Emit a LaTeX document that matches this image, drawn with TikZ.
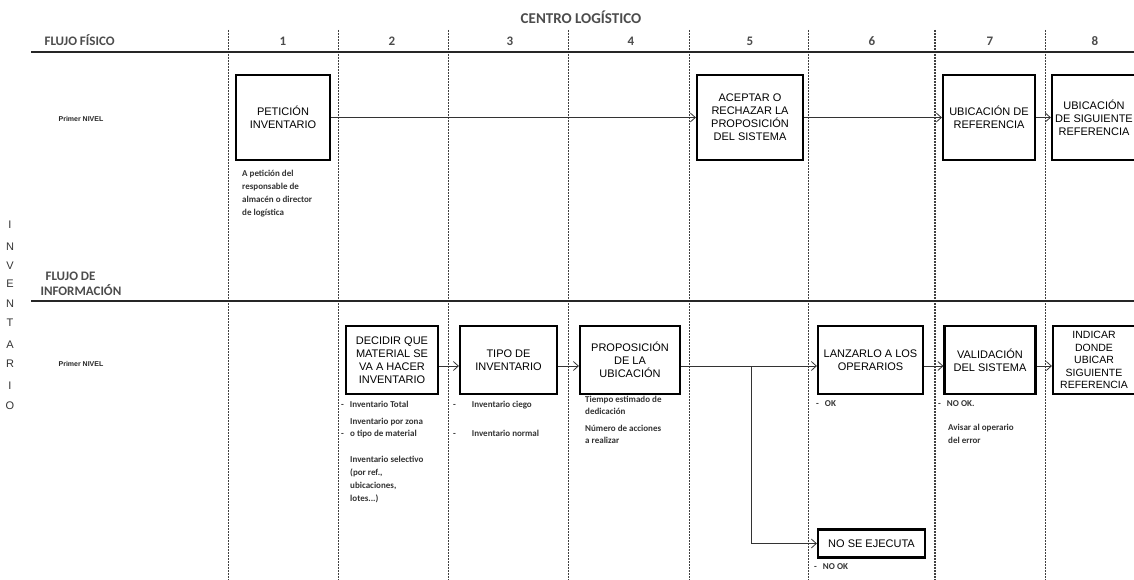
\documentclass[tikz,border=0pt]{standalone}
\usepackage{fontspec}
\setmainfont{Liberation Sans}
\newfontfamily\hdr{Carlito}
\usetikzlibrary{arrows.meta}
\tikzset{
  box/.style={draw=black, line width=2.2pt, align=center, inner sep=1pt,
    font=\fontsize{11}{13}\selectfont},
  flow/.style={draw=black!80, line width=0.8pt, -{Straight Barb[length=5pt,width=9pt]}},
  sep/.style={draw=black!75, line width=0.9pt, dash pattern=on 2pt off 1pt},
  hline/.style={draw=black!85, line width=1.4pt},
  head/.style={font=\hdr\bfseries\fontsize{13}{15}\selectfont, text=black!70},
  note/.style={font=\hdr\bfseries\fontsize{9}{13}\selectfont, align=left, anchor=north west, inner sep=0pt, text=black!80},
  lvl/.style={font=\bfseries\fontsize{7}{8}\selectfont, text=black!85},
  vl/.style={font=\fontsize{11}{12}\selectfont, text=black!80}
}
\begin{document}
\begin{tikzpicture}[x=1pt,y=-1pt]
\useasboundingbox (0,0) rectangle (1134,580);
\fill[white] (0,0) rectangle (1134,580);
% separators
\foreach \xx in {228,338,448,568,689,808,1045}{\draw[sep] (\xx,30) -- (\xx,580);}
\draw[sep, line width=1.6pt] (935,30) -- (935,580);
% horizontal lines
\draw[hline] (31,52) -- (1134,52);
\draw[hline] (31,301) -- (1134,301);
% headers
\node[head, font=\hdr\bfseries\fontsize{15}{17}\selectfont] (centro) at (581,17) {CENTRO LOGÍSTICO};
\node[head, anchor=west] (ff) at (41,40) {FLUJO FÍSICO};
\node[head, anchor=west, align=left] (fi) at (37,284) {\hspace*{5pt}FLUJO DE\\INFORMACIÓN};
\foreach \n/\xx in {1/283,2/392,3/510,4/631,5/750,6/872,7/990,8/1095}{\node[head] (c\n) at (\xx,41) {\n};}
% vertical INVENTARIO
\foreach \l/\yy [count=\i] in {I/225,N/247,V/266,E/284,N/304,T/323,A/345,R/364,I/386,O/406}{\node[vl] (v\i) at (10,\yy) {\l};}
% level labels
\node[lvl] (l1) at (81,119) {Primer NIVEL};
\node[lvl] (l2) at (81,364) {Primer NIVEL};
% top row boxes
\node[box, minimum width=94pt, minimum height=85pt] (pet) at (283,117.5) {PETICIÓN\\INVENTARIO};
\node[box, minimum width=106pt, minimum height=85pt] (acep) at (750,117.5) {ACEPTAR O\\RECHAZAR LA\\PROPOSICIÓN\\DEL SISTEMA};
\node[box, minimum width=92pt, minimum height=85pt] (ubic) at (989,117.5) {UBICACIÓN DE\\REFERENCIA};
\node[box, minimum width=84pt, minimum height=85pt] (ubsig) at (1094,117.5) {UBICACIÓN\\DE SIGUIENTE\\REFERENCIA};
\draw[flow] (pet) -- (acep);
\draw[flow] (acep) -- (ubic);
\draw[flow] (ubic) -- (ubsig);
% note top
\node[note] (n1) at (242,170) {A petición del\\responsable de\\almacén o director\\de logística};
% bottom row boxes
\node[box, minimum width=92pt, minimum height=68pt] (dec) at (392,360) {DECIDIR QUE\\MATERIAL SE\\VA A HACER\\INVENTARIO};
\node[box, minimum width=97pt, minimum height=68pt] (tipo) at (508.5,360) {TIPO DE\\INVENTARIO};
\node[box, minimum width=100pt, minimum height=68pt] (prop) at (630,360) {PROPOSICIÓN\\DE LA\\UBICACIÓN};
\node[box, minimum width=105pt, minimum height=68pt] (lanz) at (870.5,360) {LANZARLO A LOS\\OPERARIOS};
\node[box, minimum width=91pt, minimum height=68pt] (val) at (990,360) {VALIDACIÓN\\DEL SISTEMA};
\node[box, minimum width=82pt, minimum height=68pt, font=\fontsize{10.5}{12.5}\selectfont] (ind) at (1094,360) {INDICAR\\DONDE\\UBICAR\\SIGUIENTE\\REFERENCIA};
\node[box, minimum width=107pt, minimum height=28pt] (noej) at (871.5,543.5) {NO SE EJECUTA};
\draw[flow] ([yshift=-6pt]dec.east) -- ([yshift=-6pt]tipo.west);
\draw[flow] ([yshift=-6pt]tipo.east) -- ([yshift=-6pt]prop.west);
\draw[flow] ([yshift=-6pt]prop.east) -- ([yshift=-6pt]lanz.west);
\draw[flow] ([yshift=-6pt]lanz.east) -- ([yshift=-6pt]val.west);
\draw[flow] ([yshift=-6pt]val.east) -- ([yshift=-6pt]ind.west);
\coordinate (br) at (751,366);
\draw[flow] (br) |- (noej.west);
% notes bottom
\node[note] (d1) at (341,401) {-\hspace{6pt}Inventario Total};
\node[note, font=\hdr\bfseries\fontsize{9}{12}\selectfont] (d2) at (341,418) {\makebox[9pt][l]{}Inventario por zona\\\makebox[9pt][l]{-}o tipo de material};
\node[note] (d3) at (350,456) {Inventario selectivo\\(por ref.,\\ubicaciones,\\lotes...)};
\node[note] (t1) at (453,401) {-\hspace{16pt}Inventario ciego};
\node[note] (t2) at (453,430) {-\hspace{16pt}Inventario normal};
\node[note, font=\hdr\bfseries\fontsize{9}{12}\selectfont] (p1) at (585,396) {Tiempo estimado de\\dedicación};
\node[note, font=\hdr\bfseries\fontsize{9}{12}\selectfont] (p2) at (585,425) {Número de acciones\\a realizar};
\node[note] (o1) at (816,400) {-\hspace{6pt}OK};
\node[note] (v1) at (938,400) {-\hspace{6pt}NO OK.};
\node[note] (v2) at (948,424) {Avisar al operario\\del error};
\node[note] (ne) at (814,563) {-\hspace{6pt}NO OK};
\end{tikzpicture}
\end{document}
